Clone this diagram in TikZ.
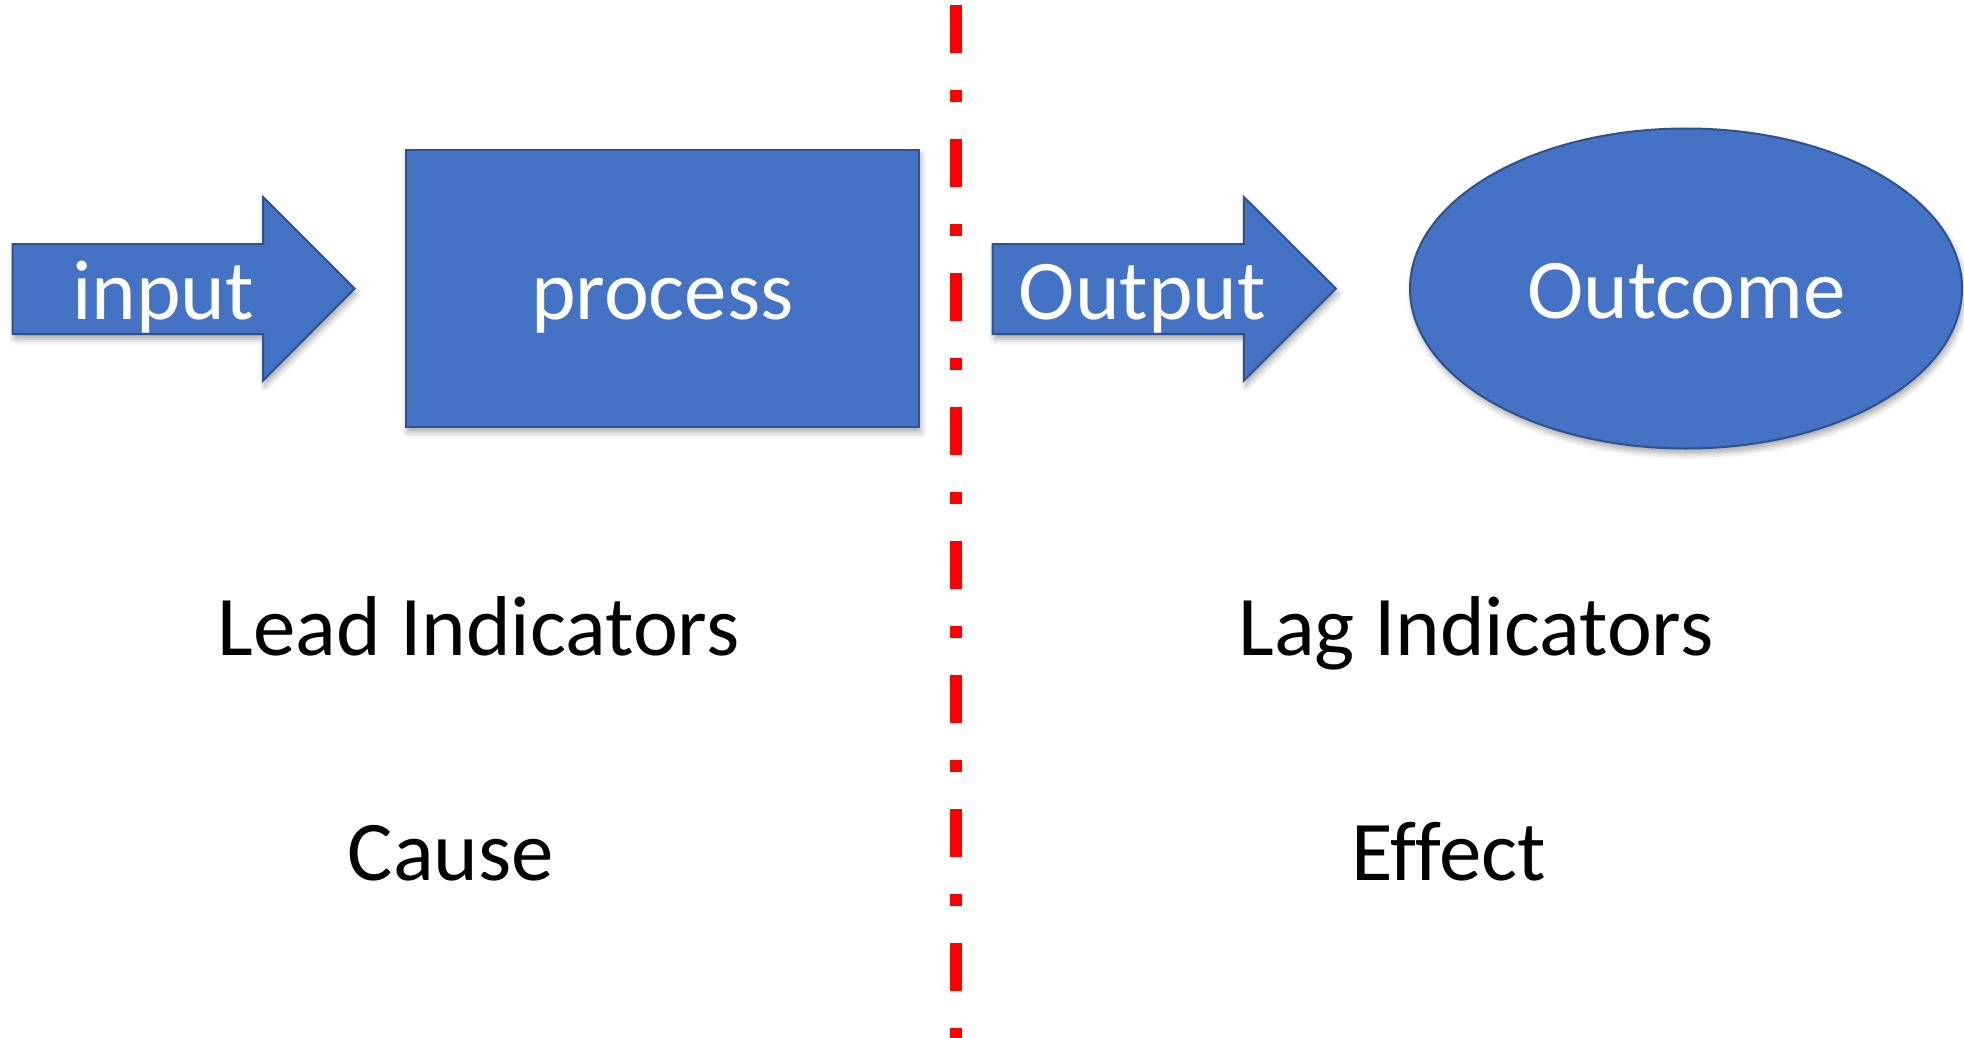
\documentclass[tikz,border=0pt]{standalone}
\usepackage{fontspec}
\setmainfont{Carlito}[Ligatures=NoCommon]
\usetikzlibrary{shadows.blur}
\definecolor{accblue}{HTML}{4472C4}
\definecolor{accedge}{HTML}{2F528F}
\definecolor{divred}{HTML}{FF0000}
\tikzset{
  shapefill/.style={fill=accblue, draw=accedge, line width=2pt, line join=miter,
    blur shadow={shadow xshift=2pt, shadow yshift=-5pt, shadow blur radius=6pt, shadow opacity=35}},
  whitetext/.style={text=white, font=\fontsize{85}{100}\selectfont, anchor=base, inner sep=0pt},
  blacktext/.style={text=black, font=\fontsize{85}{100}\selectfont, anchor=base, inner sep=0pt},
  divider/.style={draw=divred, line width=12pt, dash pattern=on 48pt off 37pt on 12pt off 37pt}
}
\begin{document}
\begin{tikzpicture}[x=1pt, y=-1pt]
  \useasboundingbox (0,0) rectangle (1964,1038);
  % input arrow
  \path[shapefill] (12.5,244) -- (263,244) -- (263,197) -- (354.5,288.6) -- (263,380.6) -- (263,334) -- (12.5,334) -- cycle;
  \node[whitetext] (input) at (163,319) {input};
  % process box
  \path[shapefill] (405.8,149.6) rectangle (918.8,427);
  \node[whitetext] (process) at (662.3,319) {process};
  % output arrow
  \path[shapefill] (992.6,244) -- (1243.8,244) -- (1243.8,197) -- (1335.8,288.6) -- (1243.8,380.6) -- (1243.8,334) -- (992.6,334) -- cycle;
  \node[whitetext] (output) at (1142.5,319) {Output};
  % outcome ellipse
  \path[shapefill] (1686,288.5) ellipse [x radius=276, y radius=160];
  \node[whitetext] (outcome) at (1686.5,318) {Outcome};
  % divider
  \coordinate (dtop) at (956,4.6);
  \coordinate (dbot) at (956,1040);
  \draw[divider] (dtop) -- (dbot);
  % labels
  \node[blacktext] (lead) at (478.5,655) {Lead Indicators};
  \node[blacktext] (cause) at (451,880.6) {Cause};
  \node[blacktext] (lag) at (1476,655) {Lag Indicators};
  \node[blacktext] (effect) at (1449,880.6) {Effect};
\end{tikzpicture}
\end{document}
